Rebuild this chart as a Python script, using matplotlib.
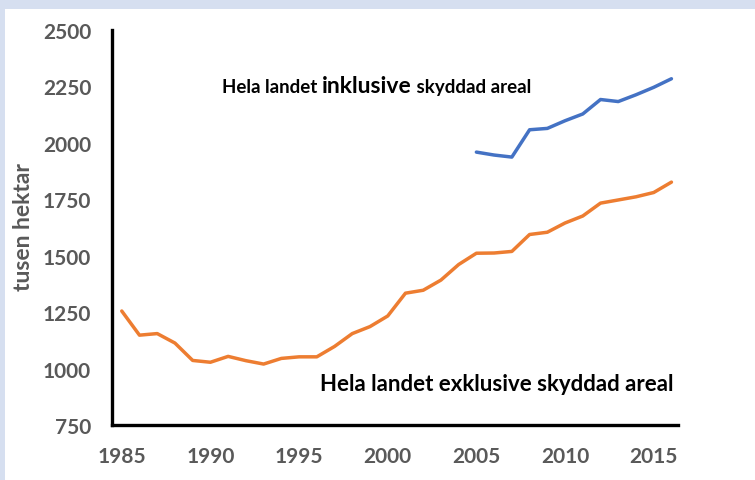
import matplotlib
matplotlib.use("Agg")
import matplotlib.pyplot as plt
from matplotlib.patches import Rectangle

years_excl = list(range(1985, 2017))
excl = [1255, 1148, 1155, 1113, 1036, 1028, 1054, 1035, 1020, 1045, 1052, 1052,
        1098, 1155, 1186, 1233, 1334, 1347, 1392, 1461, 1511, 1512, 1519, 1594,
        1604, 1645, 1676, 1733, 1747, 1761, 1780, 1826]
years_incl = list(range(2005, 2017))
incl = [1959, 1946, 1937, 2058, 2064, 2098, 2128, 2192, 2183, 2213, 2246, 2284]

yticks = [750, 1000, 1250, 1500, 1750, 2000, 2250, 2500]
xticks = [1985, 1990, 1995, 2000, 2005, 2010, 2015]
ylabel = "tusen hektar"
label_incl = ["Hela landet ", "inklusive", " skyddad areal"]
label_excl = "Hela landet exklusive skyddad areal"

W, H = 755, 481
fig = plt.figure(figsize=(W / 100, H / 100), dpi=100)
fig.patch.set_facecolor("#D6DFF0")
fig.patches.append(Rectangle((5 / W, 0), 1, (H - 10) / H, transform=fig.transFigure,
                             facecolor="white", edgecolor="none", zorder=-10))

ax = fig.add_axes([112 / W, (H - 426) / H, (678 - 112) / W, (426 - 31) / H])
ax.set_zorder(2)
ax.set_facecolor("none")
ax.plot(years_excl, excl, color="#ED7D31", lw=2.5, solid_capstyle="round", solid_joinstyle="round")
ax.plot(years_incl, incl, color="#4472C4", lw=2.5, solid_capstyle="round", solid_joinstyle="round")

ax.set_xlim(1984.45, 2016.37)
ax.set_ylim(750, 2500)
ax.set_xticks(xticks)
ax.set_yticks(yticks)
for s in ["top", "right"]:
    ax.spines[s].set_visible(False)
for s in ["left", "bottom"]:
    ax.spines[s].set_linewidth(2.4)
    ax.spines[s].set_color("black")
ax.tick_params(length=0, pad=15)
tick_color = "#595959"
for lab in ax.get_xticklabels() + ax.get_yticklabels():
    lab.set_fontfamily("Lato")
    lab.set_fontweight("bold")
    lab.set_fontsize(15)
    lab.set_color(tick_color)

fig.text(24 / W, 1 - 227 / H, ylabel, rotation=90, ha="center", va="center",
         fontfamily="Lato", fontweight="bold", fontsize=16.5, color=tick_color)

# annotations
fig.canvas.draw()
r = fig.canvas.get_renderer()
x = 222
y = H - 93
sizes = [13.5, 16.5, 13.5]
for part, sz in zip(label_incl, sizes):
    t = fig.text(x / W, y / H, part, ha="left", va="baseline", fontfamily="Lato",
                 fontweight="bold", fontsize=sz, color="black")
    bb = t.get_window_extent(r)
    x = bb.x1

fig.text(673 / W, (H - 391) / H, label_excl, ha="right", va="baseline", fontfamily="Lato",
         fontweight="bold", fontsize=16, color="black")

fig.savefig("out.png", dpi=100, facecolor=fig.get_facecolor())
